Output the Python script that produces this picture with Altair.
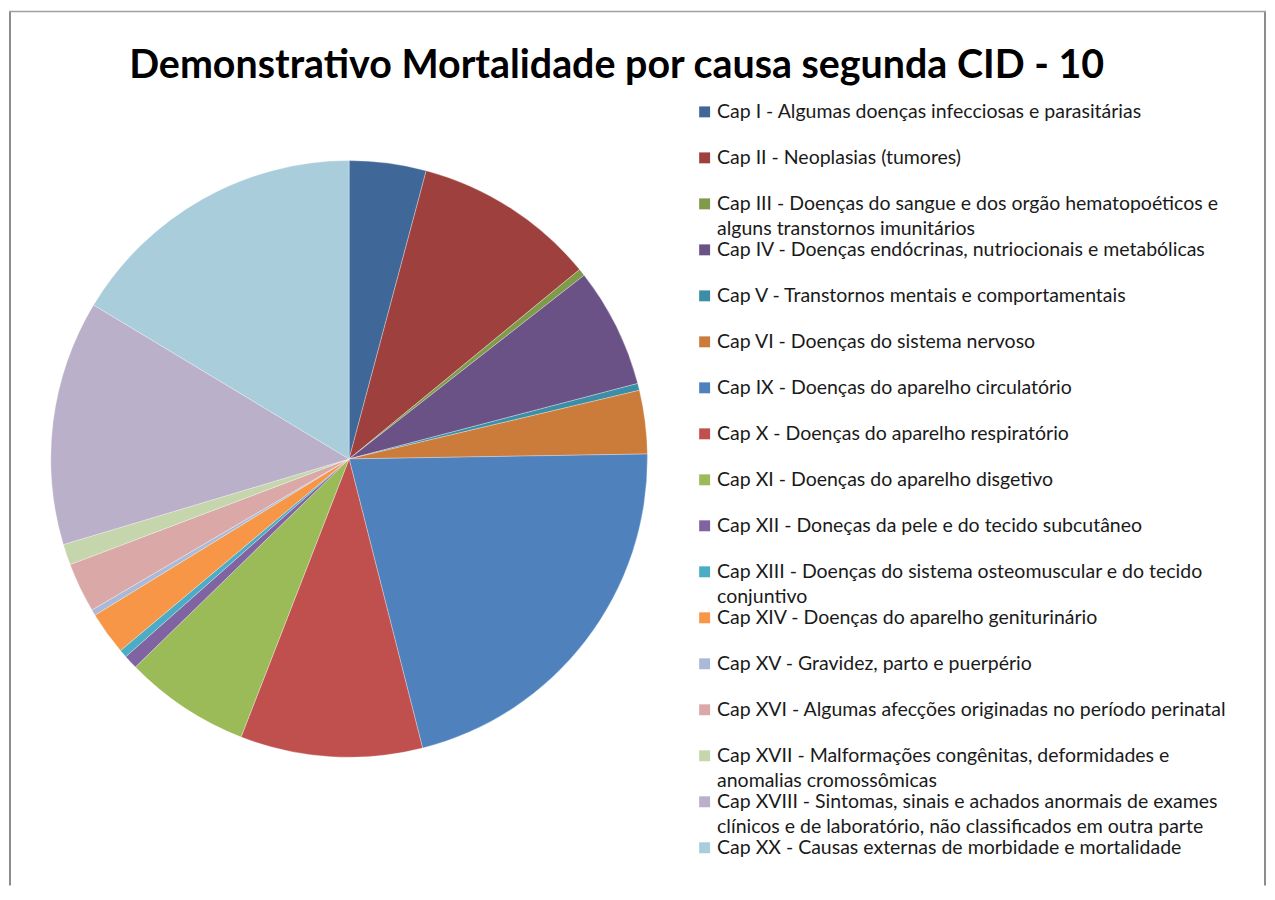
import altair as alt
import pandas as pd

title_text = "Demonstrativo Mortalidade por causa segunda CID - 10"

categories = [
    "Cap I", "Cap II", "Cap III", "Cap IV", "Cap V", "Cap VI", "Cap IX", "Cap X",
    "Cap XI", "Cap XII", "Cap XIII", "Cap XIV", "Cap XV", "Cap XVI", "Cap XVII",
    "Cap XVIII", "Cap XX",
]

label_line1 = [
    "Cap I - Algumas doenças infecciosas e parasitárias",
    "Cap II - Neoplasias (tumores)",
    "Cap III - Doenças do sangue e dos orgão hematopoéticos e",
    "Cap IV - Doenças endócrinas, nutriocionais e metabólicas",
    "Cap V - Transtornos mentais e comportamentais",
    "Cap VI - Doenças do sistema nervoso",
    "Cap IX - Doenças do aparelho circulatório",
    "Cap X - Doenças do aparelho respiratório",
    "Cap XI - Doenças do aparelho disgetivo",
    "Cap XII - Doneças da pele e do tecido subcutâneo",
    "Cap XIII - Doenças do sistema osteomuscular e do tecido",
    "Cap XIV - Doenças do aparelho geniturinário",
    "Cap XV - Gravidez, parto e puerpério",
    "Cap XVI - Algumas afecções originadas no período perinatal",
    "Cap XVII - Malformações congênitas, deformidades e",
    "Cap XVIII - Sintomas, sinais e achados anormais de exames",
    "Cap XX - Causas externas de morbidade e mortalidade",
]

label_line2 = [
    "", "", "alguns transtornos imunitários", "", "", "", "", "", "", "",
    "conjuntivo", "", "", "", "anomalias cromossômicas",
    "clínicos e de laboratório, não classificados em outra parte", "",
]

values = [4.16, 9.89, 0.39, 6.49, 0.375, 3.43, 21.30, 9.86, 6.81, 0.76,
          0.43, 2.33, 0.32, 2.69, 1.13, 13.26, 16.37]

colors = [
    "#3F6899", "#9E413E", "#7F9A48", "#6A5186", "#3B8EA5", "#CB7B3A",
    "#4F81BD", "#C0504D", "#9BBB59", "#8064A2", "#4BACC6", "#F79646",
    "#AAB9D7", "#D9A8A7", "#C6D6AC", "#BAB0CA", "#A9CDDA",
]

df = pd.DataFrame({
    "cat": categories,
    "l1": label_line1,
    "l2": label_line2,
    "v": values,
    "ord": list(range(len(categories))),
})

W, H = 1264, 880
FONT = "Lato"
LFS = 19.6

color = alt.Color("cat:N", scale=alt.Scale(domain=categories, range=colors), legend=None)
ypos = alt.Y("cat:N", scale=alt.Scale(type="point", domain=categories, range=[102, 842], padding=0),
             axis=None)

base = alt.Chart(df)

pie = base.mark_arc(outerRadius=300, stroke="#ffffff", strokeWidth=0.3).encode(
    theta=alt.Theta("v:Q", stack=True),
    color=color,
    order=alt.Order("ord:Q"),
    x=alt.value(342),
    y=alt.value(451),
)

squares = base.mark_square(size=121, opacity=1).encode(
    x=alt.value(699.5), y=ypos, color=color
)

text1 = base.mark_text(align="left", baseline="middle", font=FONT, fontSize=LFS,
                       color="#1a1a1a").encode(x=alt.value(712), y=ypos, text="l1:N")
text2 = base.mark_text(align="left", baseline="middle", font=FONT, fontSize=LFS,
                       color="#1a1a1a", dy=25).encode(x=alt.value(712), y=ypos, text="l2:N")

one = alt.Data(values=[{"t": title_text}])
title = alt.Chart(one).mark_text(font=FONT, fontWeight="bold", fontSize=39.6,
                                 align="center", baseline="alphabetic",
                                 color="#000000").encode(
    x=alt.value(611), y=alt.value(68), text="t:N")

frame_left = alt.Chart(one).mark_rule(color="#8c8c8c", strokeWidth=2).encode(
    x=alt.value(1), y=alt.value(1), y2=alt.value(H))
frame_right = alt.Chart(one).mark_rule(color="#8c8c8c", strokeWidth=2).encode(
    x=alt.value(W - 1), y=alt.value(1), y2=alt.value(H))
frame_top = alt.Chart(one).mark_rule(color="#a0a0a0", strokeWidth=1.5).encode(
    x=alt.value(0), x2=alt.value(W), y=alt.value(1))

chart = alt.layer(frame_left, frame_right, frame_top, pie, squares, text1, text2, title).properties(
    width=W, height=H, padding=0
).configure_view(stroke=None)

chart.save("out.html", embed_options={"renderer": "svg", "actions": False})
